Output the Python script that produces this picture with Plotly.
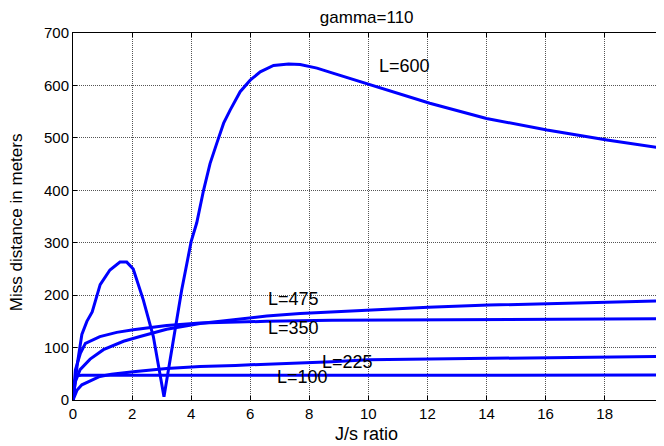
import plotly.graph_objects as go

# ---- data ----
x_600 = [0, 0.15, 0.3, 0.47, 0.65, 0.92, 1.25, 1.59, 1.82, 2.04, 2.38, 2.72, 3.08,
         3.4, 3.68, 4.0, 4.19, 4.42, 4.64, 4.87, 5.1, 5.32, 5.66, 6.0, 6.34, 6.79,
         7.3, 7.69, 8.26, 8.77, 10.05, 12.08, 14.0, 16.05, 18.08, 20]
y_600 = [0, 70, 125, 150, 168, 220, 248, 263, 263, 250, 191, 121, 6,
         115, 210, 302, 338, 400, 451, 490, 528, 553, 588, 610, 626, 638,
         641, 640, 633, 624, 601, 566, 537, 515, 496, 480]

x_475 = [0, 0.08, 0.24, 0.58, 1.03, 1.71, 2.27, 3.17, 4.3, 5.43, 6.56, 7.69, 8.77,
         10.07, 12.03, 14.07, 16.1, 18.1, 20]
y_475 = [0, 35, 58, 78, 96, 112, 121, 135, 146, 153, 160, 165, 168,
         172, 177, 181, 184, 186, 189]

x_350 = [0, 0.08, 0.25, 0.42, 0.91, 1.48, 2.04, 3.17, 4.3, 5.43, 6.56, 8.77, 12, 16, 20]
y_350 = [0, 57, 89, 108, 121, 129, 134, 142, 147, 149, 150, 152, 153, 154, 155]

x_225 = [0, 0.14, 0.3, 0.64, 0.91, 1.3, 2.04, 3.17, 4.3, 5.5, 6.56, 8.77, 10, 12, 14, 16, 18, 20]
y_225 = [0, 19, 29, 38, 45, 49, 54, 60, 64, 66, 68, 73, 77, 78, 79.5, 80.8, 81.4, 83]

x_100 = [0, 0.04, 0.1, 0.3, 1, 2, 4, 8, 12, 16, 20]
y_100 = [0, 25, 46, 47, 47, 47, 47, 47.5, 47.5, 47.5, 47.5]

series_names = ["L=600", "L=475", "L=350", "L=225", "L=100"]
series_x = [x_600, x_475, x_350, x_225, x_100]
series_y = [y_600, y_475, y_350, y_225, y_100]

x_ticks = [0, 2, 4, 6, 8, 10, 12, 14, 16, 18, 20]
y_ticks = [0, 100, 200, 300, 400, 500, 600, 700]

# label anchor positions (data coords, left edge / vertical centre)
label_pos = {"L=600": (10.28, 637), "L=475": (6.55, 193), "L=350": (6.55, 138),
             "L=225": (8.36, 72), "L=100": (6.84, 43)}

FONT = "Liberation Sans, Arial, sans-serif"

fig = go.Figure()
for name, xs, ys in zip(series_names, series_x, series_y):
    fig.add_trace(go.Scatter(x=xs, y=ys, mode="lines", name=name,
                             line=dict(color="#0000FF", width=3)))

for name in series_names:
    lx, ly = label_pos[name]
    fig.add_annotation(x=lx, y=ly, xref="x", yref="y", text=name, showarrow=False,
                       xanchor="left", yanchor="middle",
                       font=dict(family=FONT, size=18, color="black"))

fig.add_annotation(x=0.4966, y=-0.092, xref="paper", yref="paper", text="J/s ratio",
                   showarrow=False, xanchor="center", yanchor="middle",
                   font=dict(family=FONT, size=18, color="black"))
fig.add_annotation(x=-0.0953, y=0.4837, xref="paper", yref="paper",
                   text="Miss distance in meters", textangle=-90, showarrow=False,
                   xanchor="center", yanchor="middle",
                   font=dict(family=FONT, size=17, color="black"))

axis_common = dict(showgrid=True, gridcolor="#555555", griddash="1px,1px", gridwidth=1,
                   zeroline=False, showline=True, linecolor="black", linewidth=1,
                   ticks="inside", ticklen=4, tickcolor="black",
                   tickfont=dict(family=FONT, size=15, color="black"))

# the page adds an 8px body margin, so the figure is 8px smaller and margins shifted
fig.update_layout(
    width=656, height=438,
    margin=dict(l=65, r=0, t=25, b=46),
    paper_bgcolor="white", plot_bgcolor="white",
    showlegend=False,
    title=dict(text="gamma=110", xref="paper", x=0.497, xanchor="center",
               y=1 - 9.5 / 438, yanchor="middle",
               font=dict(family=FONT, size=17, color="black")),
    xaxis=dict(range=[0, 20.01], tickvals=x_ticks, mirror="ticks", **axis_common),
    yaxis=dict(range=[0, 700], tickvals=y_ticks, mirror=False, **axis_common),
)

fig.write_html("out.html")
